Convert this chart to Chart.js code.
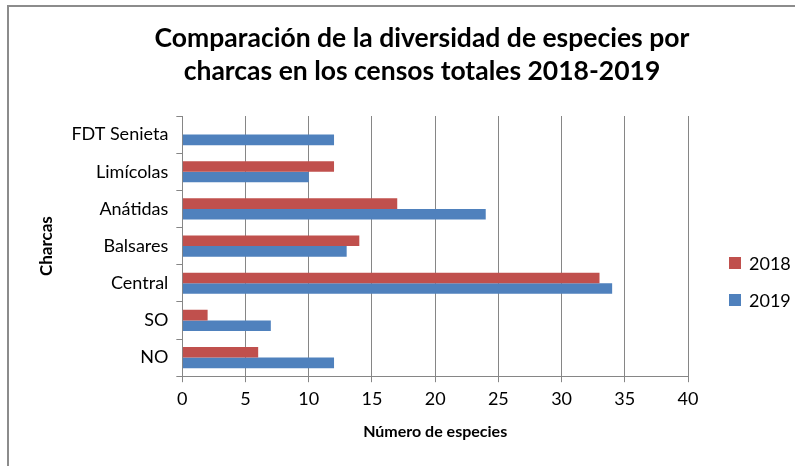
<!DOCTYPE html>
<html lang="es">
<head>
    <meta charset="UTF-8">
    <title>Diversidad de especies por charcas</title>
    <script src="https://cdn.jsdelivr.net/npm/chart.js"></script>
    <style>
        body {
            margin: 0;
            background: #fff;
            font-family: Lato, "Open Sans", sans-serif;
        }
        .frame {
            position: absolute;
            left: 7px;
            top: 5px;
            width: 786px;
            height: 461px;
            border-left: 2px solid #8c8c8c;
            border-top: 2px solid #8c8c8c;
        }
        .title {
            position: absolute;
            left: 0;
            top: 14px;
            width: 826px;
            text-align: center;
            font-weight: bold;
            font-size: 26.5px;
            line-height: 33px;
            color: #000;
        }
        .legend {
            position: absolute;
            left: 720px;
            top: 237px;
            font-size: 18px;
            color: #000;
        }
        .legend div {
            height: 37px;
            display: flex;
            align-items: center;
        }
        .legend span.box {
            display: inline-block;
            width: 12px;
            height: 12px;
            margin-right: 8px;
        }
        canvas {
            position: absolute;
            left: 0;
            top: 0;
        }
    </style>
</head>
<body>
    <div class="frame">
        <canvas id="chart" width="786" height="461"></canvas>
        <div class="title">Comparación de la diversidad de especies por<br>charcas en los censos totales 2018-2019</div>
        <div class="legend" id="legend"></div>
    </div>

    <script>
        // Data (top to bottom)
        const charcas = ['FDT Senieta', 'Limícolas', 'Anátidas', 'Balsares', 'Central', 'SO', 'NO'];
        const especies2018 = [0, 12, 17, 14, 33, 2, 6];
        const especies2019 = [12, 10, 24, 13, 34, 7, 12];
        const xTicks = [0, 5, 10, 15, 20, 25, 30, 35, 40];

        const rojo = '#C0504D';
        const azul = '#4F81BD';
        const gris = '#868686';

        const datasets = [
            { label: '2018', data: especies2018, backgroundColor: rojo },
            { label: '2019', data: especies2019, backgroundColor: azul }
        ];

        // simple legend to the right, like the Excel original
        const legend = document.getElementById('legend');
        datasets.forEach(ds => {
            const row = document.createElement('div');
            row.innerHTML = '<span class="box" style="background:' + ds.backgroundColor + '"></span>' + ds.label;
            legend.appendChild(row);
        });

        new Chart(document.getElementById('chart'), {
            type: 'bar',
            data: { labels: charcas, datasets: datasets },
            options: {
                indexAxis: 'y',
                responsive: false,
                animation: false,
                layout: {
                    padding: { top: 109, right: 107, left: 27, bottom: 23 }
                },
                datasets: {
                    bar: { categoryPercentage: 0.57, barPercentage: 1.0, borderWidth: 0 }
                },
                scales: {
                    x: {
                        min: 0,
                        max: 40,
                        afterBuildTicks: axis => { axis.ticks = xTicks.map(v => ({ value: v })); },
                        grid: { color: gris, lineWidth: 1, tickLength: 6, drawTicks: true },
                        border: { color: gris, width: 1 },
                        ticks: {
                            color: '#000',
                            padding: 6,
                            font: { family: 'Lato', size: 18 }
                        },
                        title: {
                            display: true,
                            text: 'Número de especies',
                            color: '#000',
                            padding: { top: 6 },
                            font: { family: 'Lato', size: 16, weight: 'bold' }
                        }
                    },
                    y: {
                        grid: { drawOnChartArea: false, color: gris, tickLength: 6, offset: true },
                        border: { color: gris, width: 1 },
                        ticks: {
                            color: '#000',
                            padding: 8,
                            font: { family: 'Lato', size: 18 }
                        },
                        title: {
                            display: true,
                            text: 'Charcas',
                            color: '#000',
                            padding: { top: 0, bottom: 7 },
                            font: { family: 'Lato', size: 17, weight: 'bold' }
                        }
                    }
                },
                plugins: {
                    legend: { display: false },
                    tooltip: { enabled: false }
                }
            }
        });
    </script>
</body>
</html>
